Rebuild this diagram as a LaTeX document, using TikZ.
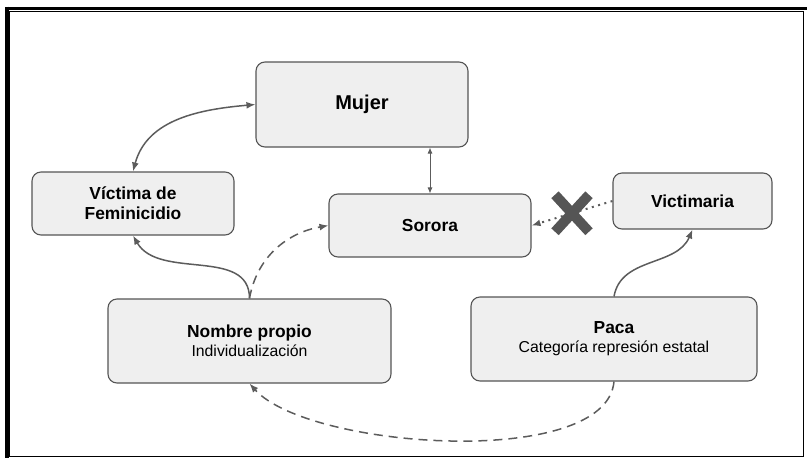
\documentclass[tikz,border=0pt]{standalone}
\usepackage{fontspec}
\setmainfont{Liberation Sans}
\usetikzlibrary{arrows.meta,shapes.misc}
\definecolor{sororaFill}{RGB}{239, 239, 239}
\definecolor{sororaEdge}{RGB}{85, 85, 85}
\definecolor{sororaLink}{RGB}{92, 92, 92}

\begin{document}
\begin{tikzpicture}[
  x=1pt, y=1pt,
  >={Latex[length=9pt,width=7pt]},
  block/.style={
    draw=sororaEdge,
    fill=sororaFill,
    line width=1.1pt,
    rounded corners=9pt,
    inner sep=0pt,
    align=center,
    font=\fontsize{17.4}{20}\selectfont\bfseries
  },
  link/.style={line width=1.5pt, sororaLink},
  thinlink/.style={line width=0.9pt, sororaLink,
    {Latex[length=6pt,width=5pt]}-{Latex[length=6pt,width=5pt]}},
  dashlink/.style={link, dash pattern=on 9pt off 6pt},
  dotlink/.style={link, line width=2pt, dash pattern=on 2pt off 4.5pt},
  cross/.style={cross out, draw=sororaEdge, solid, line width=10pt,
    minimum width=24pt, minimum height=27pt, inner sep=0pt}
]
  \useasboundingbox (0,0) rectangle (807,-459);

  % marco de la captura
  \draw[line width=1.5pt] (9,-11.5) rectangle (803.5,-456.5);
  \draw[line width=3pt] (5,-8) -- (807,-8);
  \draw[line width=4pt] (7,-6.5) -- (7,-457.5);

  \node[block, minimum width=212, minimum height=85,
    font=\fontsize{20}{22}\selectfont\bfseries] (mujer) at (362,-104.5) {Mujer};
  \node[block, minimum width=202, minimum height=63] (victima)
    at (133,-203.5) {Víctima de\\Feminicidio};
  \node[block, minimum width=202, minimum height=63] (sorora)
    at (430,-225.5) {Sorora};
  \node[block, minimum width=159, minimum height=56] (victimaria)
    at (692.5,-201) {Victimaria};
  \node[block, minimum width=283, minimum height=84] (nombre)
    at (249.5,-341) {Nombre propio\\[-1pt]{\mdseries\fontsize{15.8}{18}\selectfont Individualización}};
  \node[block, minimum width=286, minimum height=84] (paca)
    at (614,-339) {Paca\\[-1pt]{\mdseries\fontsize{15.8}{18}\selectfont Categoría represión estatal}};

  \draw[<->, link] (victima.north) to[out=75,in=185] (mujer.west);
  \draw[thinlink] (sorora.north) -- (sorora.north |- mujer.south);
  \draw[->, link] (nombre.north) to[out=90,in=-60] (victima.south);
  \draw[->, dashlink] (nombre.north) to[out=80,in=190] (sorora.west);
  \draw[->, link] (paca.north) to[out=80,in=-113] (victimaria.south);
  \draw[->, dashlink] (paca.south) to[out=-95,in=-48,looseness=0.62] (nombre.south);
  \draw[->, dotlink] (victimaria.west) -- node[cross] (cruz) {} (sorora.east);
\end{tikzpicture}
\end{document}
